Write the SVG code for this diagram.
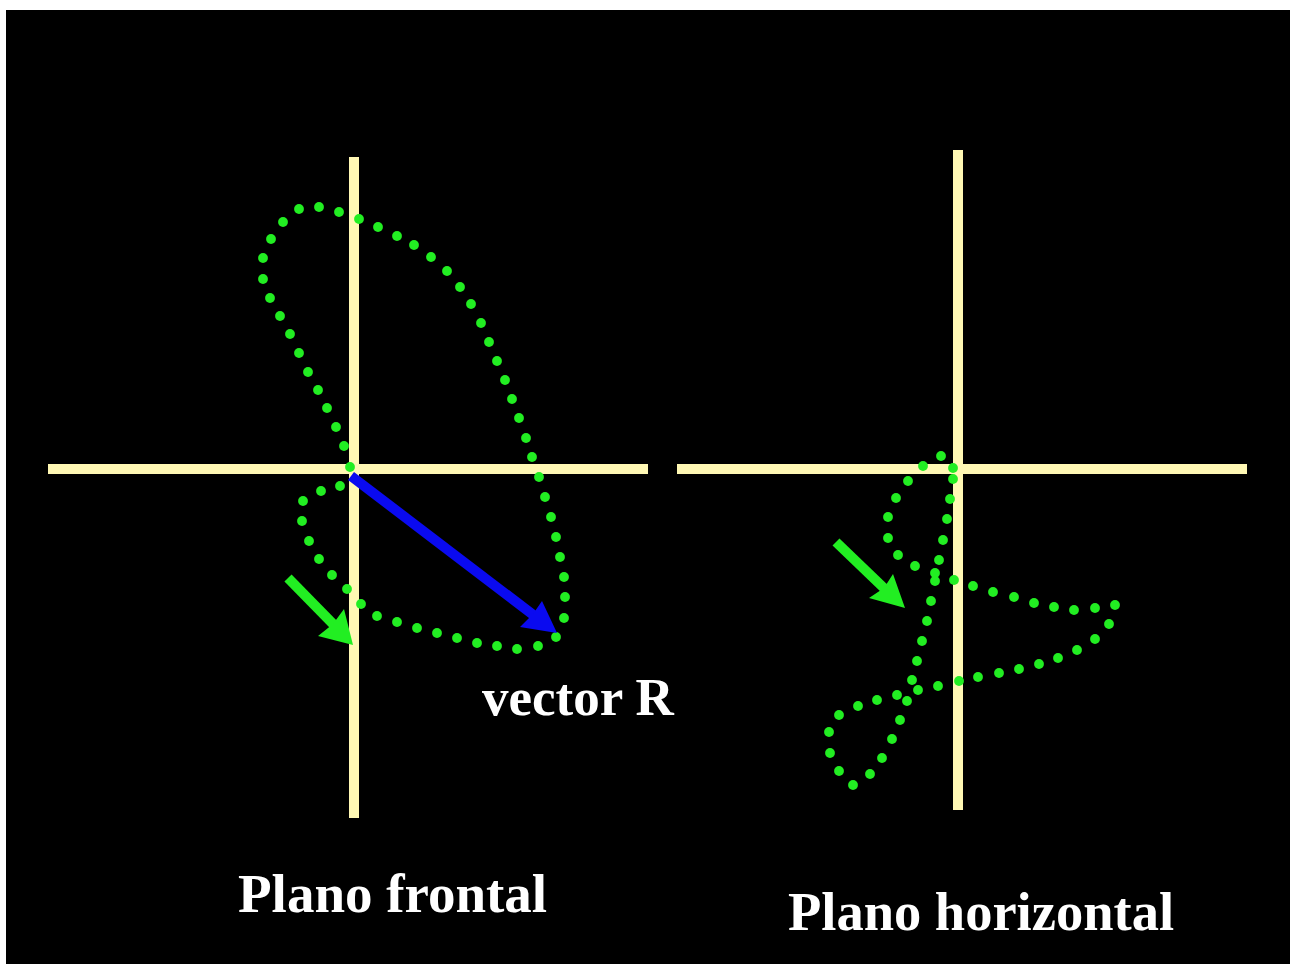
<svg xmlns="http://www.w3.org/2000/svg" width="1290" height="964" viewBox="0 0 1290 964">
<style>
.axis{stroke:#FFF8B4;stroke-width:10;fill:none}
.dot{fill:#22EE22}
.lbl{font-family:"Liberation Serif","Times New Roman",serif;font-weight:bold;fill:#FFFFFF}
.garrow{fill:#22EE22}
.barrow{fill:#0A0AF0}
</style>
<rect x="0" y="0" width="1290" height="964" fill="#FFFFFF"/>
<rect x="6" y="10" width="1284" height="954" fill="#000000"/>
<g id="frontal-axes">
<line class="axis" x1="354" y1="157" x2="354" y2="818"/>
<line class="axis" x1="48" y1="469" x2="648" y2="469"/>
</g>
<g id="horizontal-axes">
<line class="axis" x1="958" y1="150" x2="958" y2="810"/>
<line class="axis" x1="677" y1="469" x2="1247" y2="469"/>
</g>
<g id="frontal-loop">
<circle class="dot" r="4.9" cx="350" cy="467"/><circle class="dot" r="4.9" cx="340" cy="486"/><circle class="dot" r="4.9" cx="321" cy="491"/><circle class="dot" r="4.9" cx="303" cy="501"/><circle class="dot" r="4.9" cx="302" cy="521"/><circle class="dot" r="4.9" cx="309" cy="541"/><circle class="dot" r="4.9" cx="319" cy="559"/><circle class="dot" r="4.9" cx="332" cy="575"/><circle class="dot" r="4.9" cx="347" cy="589"/><circle class="dot" r="4.9" cx="361" cy="604"/><circle class="dot" r="4.9" cx="377" cy="616"/><circle class="dot" r="4.9" cx="397" cy="622"/><circle class="dot" r="4.9" cx="417" cy="628"/><circle class="dot" r="4.9" cx="437" cy="633"/><circle class="dot" r="4.9" cx="457" cy="638"/><circle class="dot" r="4.9" cx="477" cy="643"/><circle class="dot" r="4.9" cx="497" cy="646"/><circle class="dot" r="4.9" cx="517" cy="649"/><circle class="dot" r="4.9" cx="538" cy="646"/><circle class="dot" r="4.9" cx="556" cy="637"/><circle class="dot" r="4.9" cx="564" cy="618"/><circle class="dot" r="4.9" cx="565" cy="597"/><circle class="dot" r="4.9" cx="564" cy="577"/><circle class="dot" r="4.9" cx="560" cy="557"/><circle class="dot" r="4.9" cx="556" cy="537"/><circle class="dot" r="4.9" cx="551" cy="517"/><circle class="dot" r="4.9" cx="545" cy="497"/><circle class="dot" r="4.9" cx="539" cy="477"/><circle class="dot" r="4.9" cx="532" cy="457"/><circle class="dot" r="4.9" cx="526" cy="438"/><circle class="dot" r="4.9" cx="519" cy="418"/><circle class="dot" r="4.9" cx="512" cy="399"/><circle class="dot" r="4.9" cx="505" cy="380"/><circle class="dot" r="4.9" cx="497" cy="361"/><circle class="dot" r="4.9" cx="489" cy="342"/><circle class="dot" r="4.9" cx="481" cy="323"/><circle class="dot" r="4.9" cx="471" cy="304"/><circle class="dot" r="4.9" cx="460" cy="287"/><circle class="dot" r="4.9" cx="447" cy="271"/><circle class="dot" r="4.9" cx="431" cy="257"/><circle class="dot" r="4.9" cx="414" cy="245"/><circle class="dot" r="4.9" cx="397" cy="236"/><circle class="dot" r="4.9" cx="378" cy="227"/><circle class="dot" r="4.9" cx="359" cy="219"/><circle class="dot" r="4.9" cx="339" cy="212"/><circle class="dot" r="4.9" cx="319" cy="207"/><circle class="dot" r="4.9" cx="299" cy="209"/><circle class="dot" r="4.9" cx="283" cy="222"/><circle class="dot" r="4.9" cx="271" cy="239"/><circle class="dot" r="4.9" cx="263" cy="258"/><circle class="dot" r="4.9" cx="263" cy="279"/><circle class="dot" r="4.9" cx="270" cy="298"/><circle class="dot" r="4.9" cx="280" cy="316"/><circle class="dot" r="4.9" cx="290" cy="334"/><circle class="dot" r="4.9" cx="299" cy="353"/><circle class="dot" r="4.9" cx="308" cy="372"/><circle class="dot" r="4.9" cx="318" cy="390"/><circle class="dot" r="4.9" cx="327" cy="408"/><circle class="dot" r="4.9" cx="336" cy="427"/><circle class="dot" r="4.9" cx="344" cy="446"/>
</g>
<g id="horizontal-loop">
<circle class="dot" r="4.9" cx="953" cy="468"/><circle class="dot" r="4.9" cx="953" cy="479"/><circle class="dot" r="4.9" cx="950" cy="499"/><circle class="dot" r="4.9" cx="947" cy="519"/><circle class="dot" r="4.9" cx="943" cy="540"/><circle class="dot" r="4.9" cx="939" cy="560"/><circle class="dot" r="4.9" cx="935" cy="573"/><circle class="dot" r="4.9" cx="935" cy="581"/><circle class="dot" r="4.9" cx="931" cy="601"/><circle class="dot" r="4.9" cx="927" cy="621"/><circle class="dot" r="4.9" cx="922" cy="641"/><circle class="dot" r="4.9" cx="917" cy="661"/><circle class="dot" r="4.9" cx="912" cy="680"/><circle class="dot" r="4.9" cx="907" cy="701"/><circle class="dot" r="4.9" cx="900" cy="720"/><circle class="dot" r="4.9" cx="892" cy="739"/><circle class="dot" r="4.9" cx="882" cy="758"/><circle class="dot" r="4.9" cx="870" cy="774"/><circle class="dot" r="4.9" cx="853" cy="785"/><circle class="dot" r="4.9" cx="839" cy="771"/><circle class="dot" r="4.9" cx="830" cy="753"/><circle class="dot" r="4.9" cx="829" cy="732"/><circle class="dot" r="4.9" cx="839" cy="715"/><circle class="dot" r="4.9" cx="858" cy="706"/><circle class="dot" r="4.9" cx="877" cy="700"/><circle class="dot" r="4.9" cx="897" cy="695"/><circle class="dot" r="4.9" cx="918" cy="690"/><circle class="dot" r="4.9" cx="938" cy="686"/><circle class="dot" r="4.9" cx="959" cy="681"/><circle class="dot" r="4.9" cx="978" cy="677"/><circle class="dot" r="4.9" cx="999" cy="673"/><circle class="dot" r="4.9" cx="1019" cy="669"/><circle class="dot" r="4.9" cx="1039" cy="664"/><circle class="dot" r="4.9" cx="1058" cy="658"/><circle class="dot" r="4.9" cx="1077" cy="650"/><circle class="dot" r="4.9" cx="1095" cy="639"/><circle class="dot" r="4.9" cx="1109" cy="624"/><circle class="dot" r="4.9" cx="1115" cy="605"/><circle class="dot" r="4.9" cx="1095" cy="608"/><circle class="dot" r="4.9" cx="1074" cy="610"/><circle class="dot" r="4.9" cx="1054" cy="607"/><circle class="dot" r="4.9" cx="1034" cy="603"/><circle class="dot" r="4.9" cx="1014" cy="597"/><circle class="dot" r="4.9" cx="993" cy="592"/><circle class="dot" r="4.9" cx="973" cy="586"/><circle class="dot" r="4.9" cx="954" cy="580"/><circle class="dot" r="4.9" cx="915" cy="566"/><circle class="dot" r="4.9" cx="898" cy="555"/><circle class="dot" r="4.9" cx="888" cy="538"/><circle class="dot" r="4.9" cx="888" cy="517"/><circle class="dot" r="4.9" cx="896" cy="498"/><circle class="dot" r="4.9" cx="908" cy="481"/><circle class="dot" r="4.9" cx="923" cy="466"/><circle class="dot" r="4.9" cx="941" cy="456"/>
</g>
<g id="connectors">
<g id="vector-R-arrow">
<line x1="351" y1="476" x2="536" y2="617" stroke="#0A0AF0" stroke-width="10"/>
<polygon class="barrow" points="557,633 520,627 533,614 542,601"/>
</g>
<g id="frontal-direction-arrow">
<line x1="288" y1="578" x2="336" y2="627" stroke="#22EE22" stroke-width="10"/>
<polygon class="garrow" points="353,645 318,636 333,624 344,609"/>
</g>
<g id="horizontal-direction-arrow">
<line x1="836" y1="542" x2="887" y2="591" stroke="#22EE22" stroke-width="10"/>
<polygon class="garrow" points="905,608 869,598 884,588 893,574"/>
</g>
</g>
<g id="labels">
<text class="lbl" x="482" y="715" font-size="53">vector R</text>
<text class="lbl" x="238" y="912" font-size="55">Plano frontal</text>
<text class="lbl" x="788" y="930" font-size="54.5">Plano horizontal</text>
</g>
</svg>
